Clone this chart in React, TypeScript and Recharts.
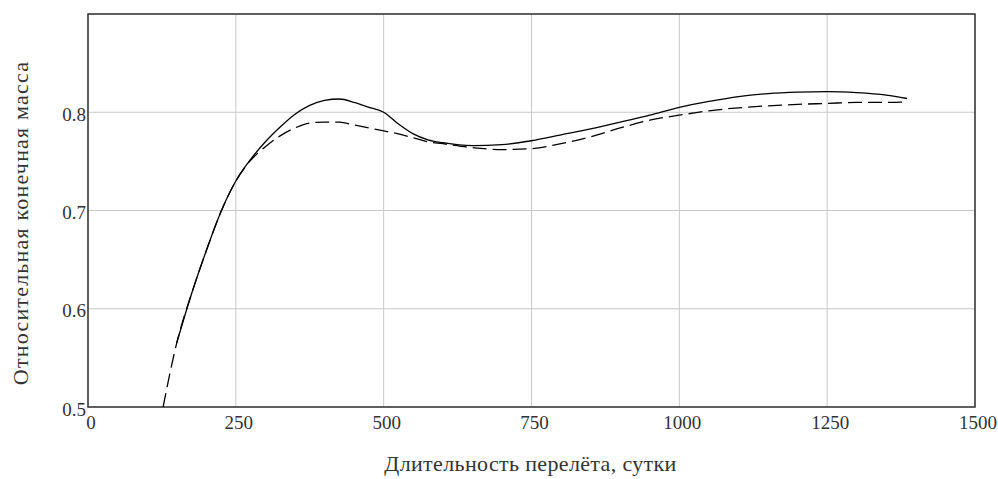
import React from "react";
import {
  LineChart,
  Line,
  XAxis,
  YAxis,
  CartesianGrid,
  ReferenceArea,
  Label,
} from "recharts";

// flight duration, days
const days = [
  127, 150, 175, 200, 225, 250, 275, 300, 325, 350, 375, 400, 425, 450, 475,
  500, 525, 550, 575, 600, 650, 700, 750, 800, 850, 900, 950, 1000, 1050, 1100,
  1150, 1200, 1250, 1300, 1350, 1385,
];

// relative final mass, solid curve
const massSolid = [
  null, 0.565, 0.615, 0.659, 0.699, 0.73, 0.752, 0.77, 0.785, 0.798, 0.807,
  0.812, 0.8135, 0.81, 0.805, 0.8, 0.788, 0.778, 0.772, 0.769, 0.766, 0.767,
  0.771, 0.777, 0.783, 0.79, 0.797, 0.805, 0.811, 0.816, 0.819, 0.8205, 0.821,
  0.82, 0.8175, 0.814,
];

// relative final mass, dashed curve
const massDashed = [
  0.5, 0.565, 0.615, 0.659, 0.699, 0.73, 0.751, 0.765, 0.776, 0.784, 0.789,
  0.79, 0.79, 0.787, 0.784, 0.781, 0.778, 0.774, 0.77, 0.768, 0.764, 0.762,
  0.763, 0.768, 0.775, 0.784, 0.792, 0.797, 0.8015, 0.8045, 0.8065, 0.808,
  0.809, 0.81, 0.81, 0.8105,
];

const xTicks = [0, 250, 500, 750, 1000, 1250, 1500];
const yTicks = [0.5, 0.6, 0.7, 0.8];

const data = days.map((d, i) => ({
  day: d,
  solid: massSolid[i],
  dashed: massDashed[i],
}));

const FONT = '"Liberation Serif", "Times New Roman", serif';
const TEXT = "#333";

export default function App() {
  return (
    <div style={{ position: "absolute", left: 0, top: 0, background: "#fff" }}>
      <LineChart
        width={998}
        height={479}
        data={data}
        margin={{ top: 14, right: 23, bottom: 40, left: 0 }}
      >
        <CartesianGrid stroke="#c8c8c8" strokeWidth={1} />
        <XAxis
          dataKey="day"
          type="number"
          domain={[0, 1500]}
          ticks={xTicks}
          tickLine={false}
          axisLine={false}
          tickSize={0}
          tickMargin={9}
          height={32}
          tick={{ fill: TEXT, fontSize: 19, fontFamily: FONT, dx: 3 }}
        >
          <Label
            content={({ viewBox }: any) => (
              <text
                x={viewBox.x + viewBox.width / 2 - 1}
                y={471}
                textAnchor="middle"
                fill={TEXT}
                fontSize={22}
                letterSpacing={0.35}
                fontFamily={FONT}
              >
                Длительность перелёта, сутки
              </text>
            )}
          />
        </XAxis>
        <YAxis
          type="number"
          domain={[0.5, 0.9]}
          ticks={yTicks}
          allowDataOverflow
          tickLine={false}
          axisLine={false}
          tickSize={0}
          tickMargin={2}
          width={88}
          tickFormatter={(v: number) => v.toFixed(1)}
          tick={{ fill: TEXT, fontSize: 19, fontFamily: FONT, dy: 2 }}
        >
          <Label
            content={() => (
              <text
                x={28}
                y={223}
                transform="rotate(-90, 28, 223)"
                textAnchor="middle"
                fill={TEXT}
                fontSize={22}
                letterSpacing={1.2}
                fontFamily={FONT}
              >
                Относительная конечная масса
              </text>
            )}
          />
        </YAxis>
        <Line
          dataKey="dashed"
          type="monotone"
          stroke="#000"
          strokeWidth={1.3}
          strokeDasharray="14 6"
          dot={false}
          connectNulls
          isAnimationActive={false}
        />
        <Line
          dataKey="solid"
          type="monotone"
          stroke="#000"
          strokeWidth={1.3}
          dot={false}
          connectNulls
          isAnimationActive={false}
        />
        <ReferenceArea
          x1={0}
          x2={1500}
          y1={0.5}
          y2={0.9}
          fill="none"
          fillOpacity={0}
          stroke="#333"
          strokeWidth={1.5}
        />
      </LineChart>
    </div>
  );
}
